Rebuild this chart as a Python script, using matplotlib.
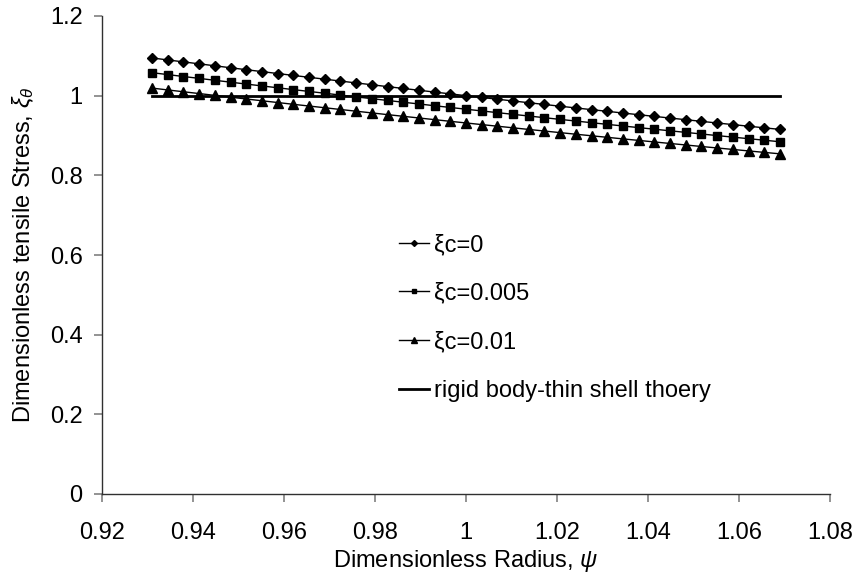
import matplotlib
matplotlib.use("Agg")
import matplotlib.pyplot as plt

plt.rcParams['font.family'] = ['Liberation Sans', 'DejaVu Sans']
plt.rcParams['mathtext.fontset'] = 'custom'
plt.rcParams['mathtext.rm'] = 'Liberation Sans'
plt.rcParams['mathtext.it'] = 'Liberation Sans:italic'

# Dimensionless radius (x)
psi = [0.931, 0.93445, 0.9379, 0.94135, 0.9448, 0.94825, 0.9517, 0.95515, 0.9586, 0.96205,
       0.9655, 0.96895, 0.9724, 0.97585, 0.9793, 0.98275, 0.9862, 0.98965, 0.9931, 0.99655,
       1.0, 1.00345, 1.0069, 1.01035, 1.0138, 1.01725, 1.0207, 1.02415, 1.0276, 1.03105,
       1.0345, 1.03795, 1.0414, 1.04485, 1.0483, 1.05175, 1.0552, 1.05865, 1.0621, 1.06555,
       1.069]

# xi_c = 0
stress_c0 = [1.0947, 1.0897, 1.0848, 1.0799, 1.0750, 1.0701, 1.0652, 1.0604, 1.0556, 1.0508,
             1.0461, 1.0414, 1.0367, 1.0320, 1.0274, 1.0227, 1.0181, 1.0136, 1.0090, 1.0045,
             1.0000, 0.9955, 0.9911, 0.9867, 0.9823, 0.9779, 0.9735, 0.9692, 0.9649, 0.9607,
             0.9564, 0.9522, 0.9480, 0.9438, 0.9397, 0.9355, 0.9314, 0.9274, 0.9233, 0.9193,
             0.9153]

# xi_c = 0.005
stress_c005 = [1.0577, 1.0529, 1.0481, 1.0434, 1.0386, 1.0339, 1.0291, 1.0245, 1.0198, 1.0152,
               1.0106, 1.0061, 1.0015, 0.9970, 0.9925, 0.9880, 0.9835, 0.9792, 0.9747, 0.9704,
               0.9660, 0.9617, 0.9574, 0.9531, 0.9489, 0.9447, 0.9404, 0.9363, 0.9321, 0.9280,
               0.9239, 0.9198, 0.9158, 0.9118, 0.9078, 0.9038, 0.8998, 0.8959, 0.8920, 0.8882,
               0.8843]

# xi_c = 0.01
stress_c01 = [1.0190, 1.0144, 1.0098, 1.0053, 1.0007, 0.9962, 0.9917, 0.9872, 0.9828, 0.9783,
              0.9740, 0.9697, 0.9653, 0.9610, 0.9567, 0.9524, 0.9482, 0.9440, 0.9398, 0.9356,
              0.9315, 0.9274, 0.9233, 0.9193, 0.9152, 0.9112, 0.9072, 0.9032, 0.8993, 0.8954,
              0.8915, 0.8877, 0.8838, 0.8800, 0.8762, 0.8724, 0.8687, 0.8650, 0.8613, 0.8576,
              0.8540]

# rigid body - thin shell theory
rigid_x = [0.931, 1.069]
rigid_y = [1.0, 1.0]

labels = ['ξc=0', 'ξc=0.005', 'ξc=0.01', 'rigid body-thin shell thoery']
x_ticks = [0.92, 0.94, 0.96, 0.98, 1.0, 1.02, 1.04, 1.06, 1.08]
x_tick_labels = ['0.92', '0.94', '0.96', '0.98', '1', '1.02', '1.04', '1.06', '1.08']
y_ticks = [0, 0.2, 0.4, 0.6, 0.8, 1.0, 1.2]
y_tick_labels = ['0', '0.2', '0.4', '0.6', '0.8', '1', '1.2']

fig = plt.figure(figsize=(8.59, 5.85), dpi=100)
ax = fig.add_axes([102 / 859, 91 / 585, 728 / 859, 478 / 585])

ax.plot(psi, stress_c0, color='black', lw=1, marker='D', ms=5, label=labels[0])
ax.plot(psi, stress_c005, color='black', lw=1, marker='s', ms=6, label=labels[1])
ax.plot(psi, stress_c01, color='black', lw=1, marker='^', ms=6.5, label=labels[2])
ax.plot(rigid_x, rigid_y, color='black', lw=2, label=labels[3])

ax.set_xlim(0.92, 1.08)
ax.set_ylim(0, 1.2)
ax.set_xticks(x_ticks)
ax.set_xticklabels(x_tick_labels)
ax.set_yticks(y_ticks)
ax.set_yticklabels(y_tick_labels)
ax.tick_params(direction='out', length=6, width=1.2, color='#808080', labelsize=17)
ax.tick_params(axis='x', pad=14)
ax.tick_params(axis='y', pad=8)

for side in ['top', 'right']:
    ax.spines[side].set_visible(False)
for side in ['left', 'bottom']:
    ax.spines[side].set_color('#303030')
    ax.spines[side].set_linewidth(1)

ax.set_xlabel('Dimensionless Radius, $\\mathit{\\psi}$', fontsize=17, labelpad=3)
ax.set_ylabel('Dimensionless tensile Stress, $\\mathit{\\xi}_{\\theta}$', fontsize=17, labelpad=10)

leg = ax.legend(loc='upper left', bbox_to_anchor=(399 / 859, 1 - 234 / 585),
                bbox_transform=fig.transFigure, frameon=False, fontsize=17,
                borderpad=0, borderaxespad=0, handlelength=1.25, handletextpad=0.22,
                labelspacing=1.13, markerscale=0.6)

fig.savefig('out.png', dpi=100)
